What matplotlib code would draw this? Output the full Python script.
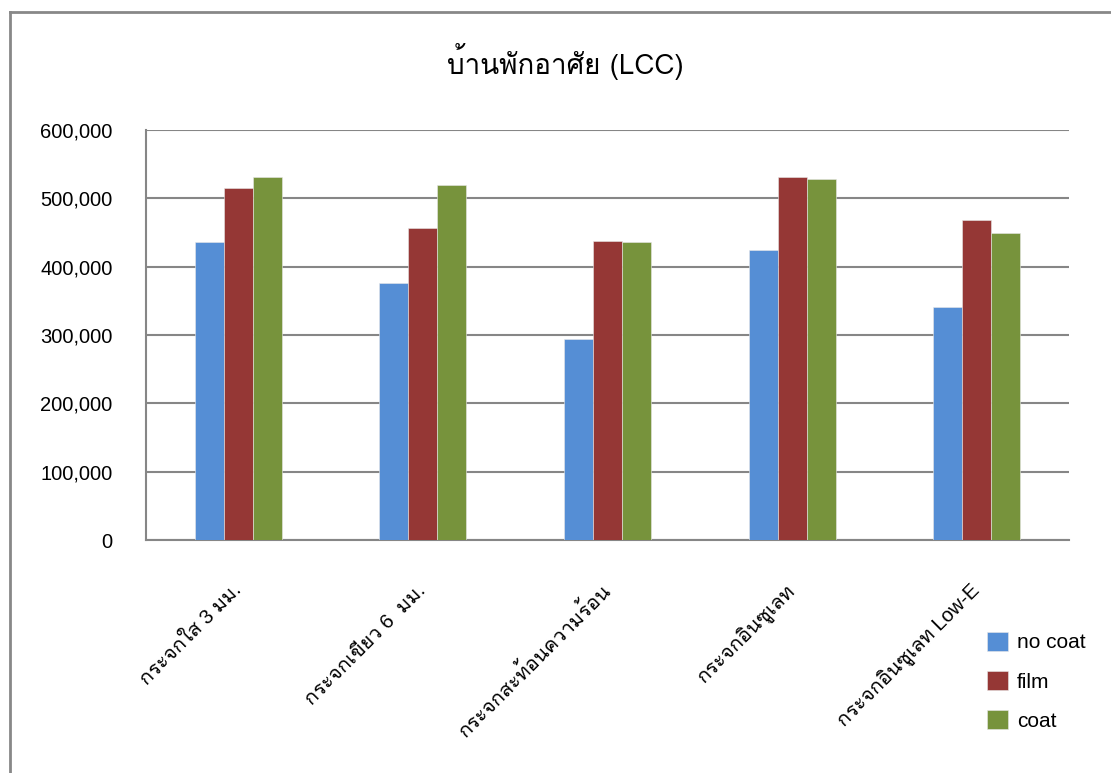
import matplotlib
matplotlib.use("Agg")
import matplotlib.pyplot as plt
from matplotlib import font_manager
from matplotlib.ft2font import FT2Font
from matplotlib.lines import Line2D
from matplotlib.ticker import FuncFormatter

categories = ["กระจกใส 3 มม.", "กระจกเขียว 6  มม.", "กระจกสะท้อนความร้อน",
              "กระจกอินซูเลท", "กระจกอินซูเลท Low-E"]
series_names = ["no coat", "film", "coat"]
no_coat = [436000, 376000, 294000, 424000, 341000]
film = [515000, 457000, 438000, 531000, 468000]
coat = [531000, 519000, 436000, 529000, 449000]
colors = ["#558ED5", "#953735", "#77933C"]
title = "บ้านพักอาศัย (LCC)"
yticks = [0, 100000, 200000, 300000, 400000, 500000, 600000]


def thai_families():
    found = []
    for f in font_manager.fontManager.ttflist:
        try:
            cmap = FT2Font(f.fname).get_charmap()
        except Exception:
            continue
        if 0x0E01 in cmap and f.name not in found:
            found.append(f.name)
    return found


thai = thai_families()
latin = ["Liberation Sans", "DejaVu Sans"]
fam = thai[:1] + latin if thai else latin
fam_label = latin[:1] + thai + latin[1:]

W, H = 1111, 773
fig = plt.figure(figsize=(W / 100, H / 100), dpi=100)
ax = fig.add_axes([146 / W, 1 - 540 / H, (1069 - 146) / W, (540 - 130) / H])

n = len(categories)
bw = 0.157
x = list(range(n))
for i, (vals, c) in enumerate(zip([no_coat, film, coat], colors)):
    ax.bar([xi + (i - 1) * bw for xi in x], vals, width=bw, color=c,
           edgecolor="#e8e8e8", linewidth=0.4, label=series_names[i], zorder=3)

ax.set_xlim(-0.5, n - 0.5)
ax.set_ylim(0, 600000)
ax.set_yticks(yticks)
ax.yaxis.set_major_formatter(FuncFormatter(lambda v, p: f"{int(v):,}"))
ax.grid(axis="y", color="#868686", linewidth=1.5, zorder=0)
for s in ["top", "right"]:
    ax.spines[s].set_visible(False)
for s in ["left", "bottom"]:
    ax.spines[s].set_color("#868686")
    ax.spines[s].set_linewidth(1.5)
ax.tick_params(axis="y", length=0, pad=24, labelsize=14.5, labelcolor="#000000")
ax.tick_params(axis="x", length=0, pad=34)
for lab in ax.get_yticklabels():
    lab.set_family(latin)
ax.set_xticks(x)
ax.set_xticklabels(categories, rotation=45, ha="right", va="center",
                   rotation_mode="anchor", fontsize=14.5, family=fam_label)

fig.text(0.5 + 10 / W, 1 - 62 / H, title, ha="center", va="center",
         fontsize=20, family=fam)

leg = ax.legend(loc="upper left", bbox_to_anchor=(987 / W, 1 - 632 / H),
                bbox_transform=fig.transFigure, frameon=False,
                prop={"family": latin, "size": 15}, handlelength=1.0,
                handleheight=1.0, handletextpad=0.45, labelspacing=0.9,
                borderaxespad=0, borderpad=0)

# outer chart frame
fig.add_artist(Line2D([10 / W, 10 / W], [0, 1 - 12 / H], transform=fig.transFigure,
                      color="#888888", linewidth=2))
fig.add_artist(Line2D([10 / W, 1], [1 - 12 / H, 1 - 12 / H], transform=fig.transFigure,
                      color="#888888", linewidth=2))

fig.savefig("out.png", dpi=100)
